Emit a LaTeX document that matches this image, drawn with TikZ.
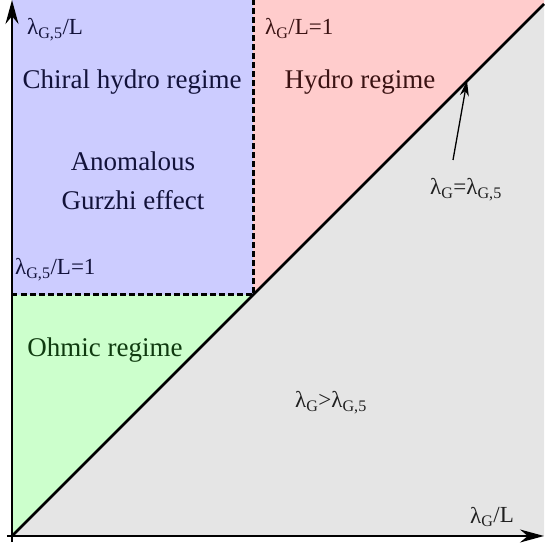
\documentclass[tikz,border=0pt]{standalone}
\usepackage{fontspec}
\setmainfont{Liberation Serif}
\usetikzlibrary{arrows.meta}
\definecolor{hydroblue}{HTML}{CCCCFF}
\definecolor{hydrored}{HTML}{FFCCCC}
\definecolor{ohmgreen}{HTML}{CCFFCC}
\definecolor{ballgray}{HTML}{E5E5E5}
\definecolor{txtblue}{HTML}{12123A}
\definecolor{txtred}{HTML}{3A1212}
\definecolor{txtgreen}{HTML}{0F3A0F}
\definecolor{txtgray}{HTML}{202020}
\newcommand{\lamG}{λ\textsubscript{G}}
\newcommand{\lamGf}{λ\textsubscript{G,5}}
\tikzset{
  regime/.style={inner sep=0pt,font=\fontsize{27}{32}\selectfont},
  axlab/.style={inner sep=0pt,font=\fontsize{23}{27}\selectfont},
  axis/.style={line width=1.5pt,-{Stealth[length=24pt,width=13pt]}},
  border/.style={line width=3pt,dash pattern=on 5.5pt off 3.5pt}
}
\begin{document}
\begin{tikzpicture}[x=1pt,y=1pt]
\useasboundingbox (-12,-10) rectangle (532,536);
\fill[ballgray] (0,0) -- (532,532) -- (532,0) -- cycle;
\fill[hydroblue] (0,241) rectangle (241,536);
\fill[hydrored] (241,241) -- (241,536) -- (532,536) -- (532,532) -- cycle;
\fill[ohmgreen] (0,0) -- (241,241) -- (0,241) -- cycle;
\coordinate (O) at (0,0);
\coordinate (corner) at (532,532);
\coordinate (xend) at (532,0);
\coordinate (yend) at (0,536);
\coordinate (meet) at (241,241);
\coordinate (left) at (0,241);
\coordinate (top) at (241,536);
\coordinate (touch) at (455,455);
\draw[border] (left) -- (meet) -- (top);
\draw[line width=2.6pt] (O) -- (corner);
\draw[axis] (-5,0) -- (xend);
\draw[axis] (0,-6) -- (yend);
\node[axlab,anchor=base west,text=txtblue] (ylab) at (15,501) {\lamGf/L};
\node[axlab,anchor=base west,text=txtred] (vlab) at (253,501) {\lamG/L=1};
\node[axlab,anchor=base west,text=txtblue] (hlab) at (3,261) {\lamGf/L=1};
\node[axlab,anchor=base,text=txtgray] (xlab) at (480,13) {\lamG/L};
\node[regime,anchor=base,text=txtblue] (chiral) at (120,447) {Chiral hydro regime};
\node[regime,anchor=base,text=txtred] (hydro) at (348,447) {Hydro regime};
\node[regime,anchor=base,text=txtblue] (anom) at (121,365) {Anomalous};
\node[regime,anchor=base,text=txtblue] (gurzhi) at (121,326) {Gurzhi effect};
\node[regime,anchor=base,text=txtgreen] (ohmic) at (93,179) {Ohmic regime};
\node[axlab,anchor=base,text=txtgray] (ballis) at (319,128) {\lamG>\lamGf};
\node[axlab,anchor=base,text=txtgray] (equal) at (454,341) {\lamG=\lamGf};
\draw[line width=1.3pt,-{Stealth[length=15pt,width=9pt]}] (441,376) -- (touch);
\end{tikzpicture}
\end{document}
